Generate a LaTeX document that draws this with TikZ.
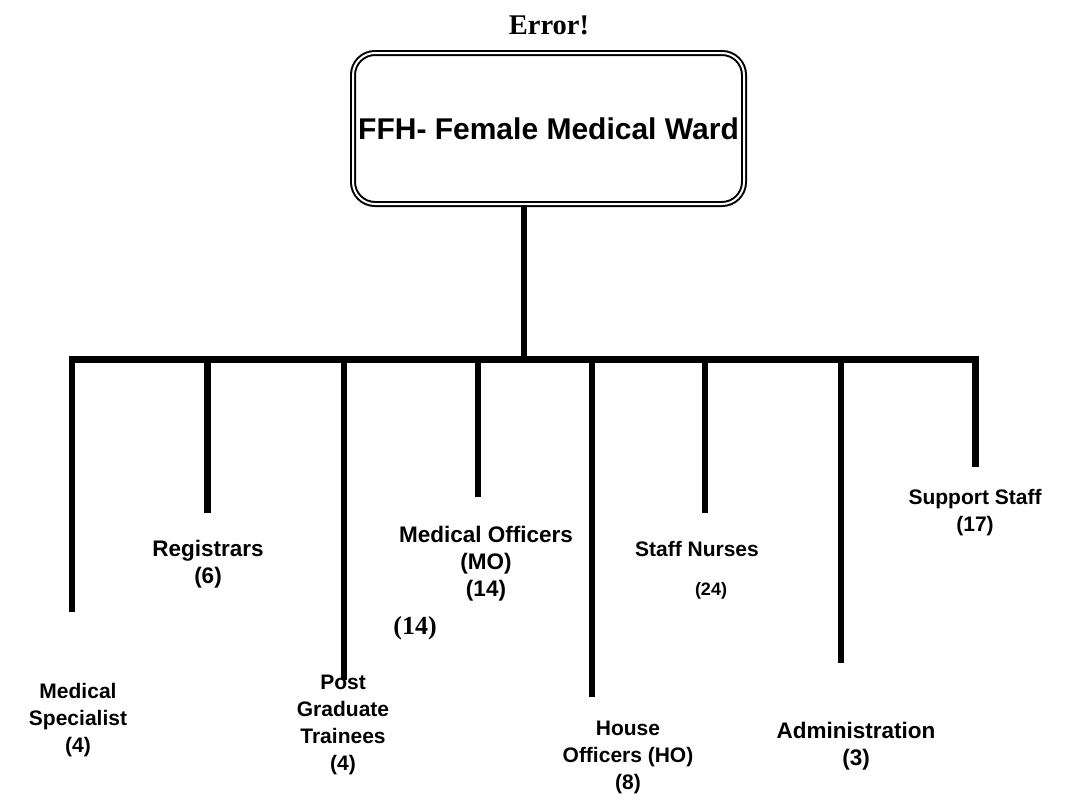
\documentclass[tikz,border=0pt]{standalone}
\usepackage{fontspec}
\setmainfont{Liberation Serif}
\setsansfont{Liberation Sans}
\begin{document}
\begin{tikzpicture}[x=1pt,y=-1pt,
  branch/.style={line width=6.5pt},
  wardbox/.style={draw, double, double distance=2pt, line width=2pt,
    rounded corners=22pt, minimum width=391pt, minimum height=151pt,
    inner sep=0pt, font=\sffamily\bfseries\fontsize{30}{34}\selectfont},
  lbl/.style={font=\sffamily\bfseries\fontsize{21}{27}\selectfont,
    align=center, inner sep=0pt},
  biglbl/.style={lbl, font=\sffamily\bfseries\fontsize{22.5}{27}\selectfont},
  numlbl/.style={font=\sffamily\bfseries\fontsize{18}{22}\selectfont, inner sep=0pt},
  serifnum/.style={font=\rmfamily\bfseries\fontsize{26}{30}\selectfont, inner sep=0pt}]
\useasboundingbox (0,0) rectangle (1073,804);

% heading and the ward box
\node[font=\rmfamily\bfseries\fontsize{28.5}{32}\selectfont, inner sep=0pt] (err) at (549,25) {Error!};
\node[wardbox] (ward) at (548.5,128.5) {FFH- Female Medical Ward};

% stem and horizontal bar
\coordinate (hub) at (524,359.5);
\coordinate (barL) at (69,359.5);
\coordinate (barR) at (979,359.5);
\draw[branch] (ward.south -| hub) -- (hub);
\draw[branch] (barL) -- (barR);

% vertical drops to each staff group
\foreach \n/\x/\y in {ms/72/612, reg/207.5/513, pgt/344/680, mo/478/497,
                      ho/592/697, sn/705/513, adm/841/663, ss/975.5/467}{
  \coordinate (\n-t) at (\x,357);
  \coordinate (\n-e) at (\x,\y);
  \draw[branch] (\n-t) -- (\n-e);
}

% staff group labels
\node[lbl] (ms) at (78,720) {Medical\\Specialist\\(4)};
\node[biglbl] (reg) at (208,564) {Registrars\\(6)};
\node[lbl] (pgt) at (343,725) {Post\\Graduate\\Trainees\\(4)};
\begin{scope}
  % the text box is narrower than the first line, so its last letter is cut
  \clip (370,500) rectangle (571,620);
  \node[biglbl] (mo) at (486,564) {Medical Officers\\(MO)\\(14)};
\end{scope}
\node[serifnum] (mo2) at (415,628) {(14)};
\node[lbl] (sn) at (697,549) {Staff Nurses};
\node[numlbl] (sn2) at (711,591) {(24)};
\node[lbl] (ho) at (628,757) {House\\Officers (HO)\\(8)};
\node[biglbl] (adm) at (856,746) {Administration\\(3)};
\node[lbl] (ss) at (975,513) {Support Staff\\(17)};
\end{tikzpicture}
\end{document}
